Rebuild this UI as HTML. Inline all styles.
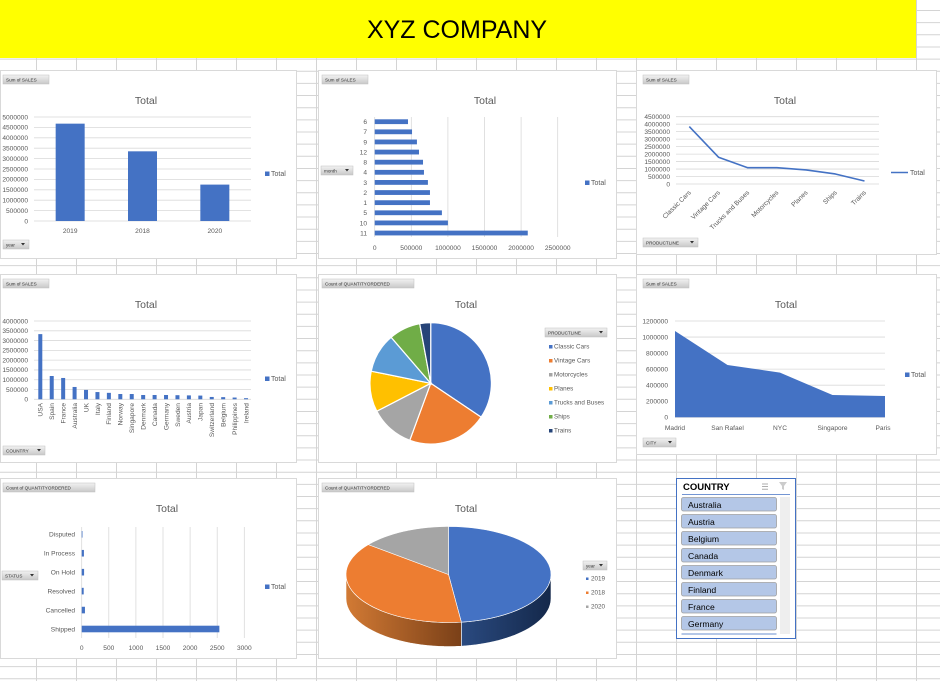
<!DOCTYPE html>
<html><head><meta charset="utf-8">
<style>
html,body{margin:0;padding:0;background:#fff;}
body{width:940px;height:681px;overflow:hidden;font-family:"Liberation Sans",sans-serif;}
svg text{font-family:"Liberation Sans",sans-serif;}
</style></head>
<body>
<svg id="root" width="940" height="681" viewBox="0 0 940 681" xmlns="http://www.w3.org/2000/svg">
<defs>
<linearGradient id="btn" x1="0" y1="0" x2="0" y2="1"><stop offset="0" stop-color="#f2f2f2"/><stop offset="1" stop-color="#c8c8c8"/></linearGradient>
<linearGradient id="sideBlue" x1="0" y1="0" x2="1" y2="0"><stop offset="0" stop-color="#2a4a80"/><stop offset="1" stop-color="#14284a"/></linearGradient>
<linearGradient id="sideOrange" x1="0" y1="0" x2="1" y2="0"><stop offset="0" stop-color="#d27a34"/><stop offset="1" stop-color="#7a4018"/></linearGradient>
</defs>
<g id="grid"></g>
<rect x="0" y="0" width="916" height="58" fill="#ffff00"/>
<text x="457" y="38" font-size="25" text-anchor="middle" fill="#000">XYZ COMPANY</text>
<g id="charts"></g>
</svg>
<script>
// ---------- data ----------
const yearCats = ["2019","2018","2020"];
const yearSales = [4680000,3350000,1750000];
const yearTicks = [0,500000,1000000,1500000,2000000,2500000,3000000,3500000,4000000,4500000,5000000];

const monthCats = ["6","7","9","12","8","4","3","2","1","5","10","11"];
const monthSales = [455000,510000,577000,605000,660000,673000,727000,755000,755000,918000,1000000,2091000];
const monthTicks = [0,500000,1000000,1500000,2000000,2500000];

const productCats = ["Classic Cars","Vintage Cars","Trucks and Buses","Motorcycles","Planes","Ships","Trains"];
const productSales = [3840000,1790000,1090000,1090000,940000,670000,200000];
const productTicks = [0,500000,1000000,1500000,2000000,2500000,3000000,3500000,4000000,4500000];

const countryCats = ["USA","Spain","France","Australia","UK","Italy","Finland","Norway","Singapore","Denmark","Canada","Germany","Sweden","Austria","Japan","Switzerland","Belgium","Philippines","Ireland"];
const countrySales = [3330000,1190000,1090000,630000,480000,370000,330000,270000,270000,220000,220000,220000,210000,200000,190000,120000,110000,90000,57000];
const countryTicks = [0,500000,1000000,1500000,2000000,2500000,3000000,3500000,4000000];

const pieCats = ["Classic Cars","Vintage Cars","Motorcycles","Planes","Trucks and Buses","Ships","Trains"];
const pieQty = [34.4,21.2,11.8,10.8,10.5,8.4,2.9];
const pieColors = ["#4472c4","#ed7d31","#a5a5a5","#ffc000","#5b9bd5","#70ad47","#264478"];

const cityCats = ["Madrid","San Rafael","NYC","Singapore","Paris"];
const citySales = [1075000,652000,556000,278000,266000];
const cityTicks = [0,200000,400000,600000,800000,1000000,1200000];

const statusCats = ["Disputed","In Process","On Hold","Resolved","Cancelled","Shipped"];
const statusQty = [14,41,44,37,60,2540];
const statusTicks = [0,500,1000,1500,2000,2500,3000];

const yearQtyCats = ["2019","2018","2020"];
const yearQty = [48.0,37.7,14.3];
const yearQtyColors = ["#4472c4","#ed7d31","#a5a5a5"];

const sliceCountries = ["Australia","Austria","Belgium","Canada","Denmark","Finland","France","Germany"];

// ---------- helpers ----------
const NS="http://www.w3.org/2000/svg";
const root=document.getElementById('charts');
function el(tag,attrs,parent,txt){const e=document.createElementNS(NS,tag);for(const k in attrs)e.setAttribute(k,attrs[k]);if(txt!==undefined)e.textContent=txt;(parent||root).appendChild(e);return e;}
function lin(d0,d1,r0,r1){return v=>r0+(v-d0)/(d1-d0)*(r1-r0);}
const GRAY="#595959", GL="#d9d9d9", BLUE="#4472c4";

// sheet grid
const grid=document.getElementById('grid');
for(let x=36.5;x<940;x+=40){const l=el('line',{x1:x,y1:0,x2:x,y2:681,stroke:"#d4d4d4","stroke-width":1},grid);}
for(let y=10.5;y<681;y+=12.15){const l=el('line',{x1:0,y1:y,x2:940,y2:y,stroke:"#d4d4d4","stroke-width":1},grid);}

function panel(name,x,y,w,h){
  const g=el('g',{});
  
  
  const r=el('rect',{x:x+0.5,y:y+0.5,width:w,height:h,fill:"#fff",stroke:"#d9d9d9"},g);
  
  
  return g;
}
function button(g,x,y,w,h,label,arrow,name){
  const b=el('g',{},g);
  
  
  el('rect',{x:x,y:y,width:w,height:h,fill:"url(#btn)",stroke:"#bfbfbf","stroke-width":0.5},b);
  el('text',{x:x+3,y:y+h-2.3,"font-size":4.6,fill:"#333"},b,label);
  if(arrow) el('path',{d:`M${x+w-8} ${y+3} l4 0 l-2 2.5 z`,fill:"#333"},b);
}
function title(g,x,y){const t=el('text',{x:x,y:y,"font-size":10.5,fill:GRAY,"text-anchor":"middle"},g,"Total");}
function legendSq(g,x,y){const lg=el('g',{},g);el('rect',{x:x,y:y-4.5,width:4.5,height:4.5,fill:BLUE},lg);el('text',{x:x+6,y:y,"font-size":7,fill:GRAY},lg,"Total");}
function tickText(g,x,y,t,anchor,name){const e=el('text',{x:x,y:y,"font-size":6.6,fill:GRAY,"text-anchor":anchor||"end"},g,t);return e;}

// ---------- chart 1: sales by year ----------
(function(){
  const g=panel('sales-by-year-chart',0,70,296,188);
  button(g,3,75,46,9,"Sum of SALES",false,'sum-of-sales-button');
  title(g,146,104);
  const y=lin(0,5000000,221,117);
  yearTicks.forEach(t=>{el('line',{x1:34,x2:251,y1:y(t),y2:y(t),stroke:GL,"stroke-width":0.8},g);tickText(g,28,y(t)+2.3,String(t));});
  const step=217/yearCats.length;
  yearCats.forEach((c,i)=>{const cx=34+step*(i+0.5);
    const b=el('rect',{x:cx-14.5,y:y(yearSales[i]),width:29,height:y(0)-y(yearSales[i]),fill:BLUE},g);
    
    tickText(g,cx,233,c,"middle");});
  legendSq(g,265,176);
  button(g,3,240,26,9,"year",true,'year-filter-button');
})();

// ---------- chart 2: sales by month ----------
(function(){
  const g=panel('sales-by-month-chart',318,70,298,188);
  button(g,322,75,46,9,"Sum of SALES",false,'sum-of-sales-button');
  title(g,485,104);
  const x=lin(0,500000,374.7,411.3);
  monthTicks.forEach(t=>{el('line',{x1:x(t),x2:x(t),y1:117,y2:237,stroke:GL,"stroke-width":0.8},g);tickText(g,x(t),250,String(t),"middle");});
  const y0=121.7, st=10.12;
  monthCats.forEach((c,i)=>{const cy=y0+st*i;
    const b=el('rect',{x:x(0),y:cy-2.4,width:x(monthSales[i])-x(0),height:4.8,fill:BLUE},g);
    
    tickText(g,367,cy+2.4,c,"end");});
  button(g,321,166,32,9,"month",true,'month-filter-button');
  legendSq(g,585,185);
})();

// ---------- chart 3: sales by product line ----------
(function(){
  const g=panel('sales-by-productline-chart',636,70,300,184);
  button(g,643,75,46,9,"Sum of SALES",false,'sum-of-sales-button');
  title(g,785,104);
  const y=lin(0,4500000,184,116.7);
  productTicks.forEach(t=>{el('line',{x1:676,x2:879,y1:y(t),y2:y(t),stroke:GL,"stroke-width":0.8},g);tickText(g,670,y(t)+2.3,String(t));});
  const xs=i=>689.3+29.2*i;
  let d="";
  productCats.forEach((c,i)=>{d+=(i?"L":"M")+xs(i)+" "+y(productSales[i]);
    const t=tickText(g,xs(i)+2,193,c,"end",'category-label');t.setAttribute('transform',`rotate(-45 ${xs(i)+2} 193)`);});
  const p=el('path',{d:d,fill:"none",stroke:BLUE,"stroke-width":1.6,"stroke-linejoin":"round"},g);
  
  const lg=el('g',{},g);
  el('line',{x1:891,x2:908,y1:172.5,y2:172.5,stroke:BLUE,"stroke-width":1.6},lg);el('text',{x:910,y:175,"font-size":7,fill:GRAY},lg,"Total");
  button(g,643,238,55,9,"PRODUCTLINE",true,'productline-filter-button');
})();

// ---------- chart 4: sales by country ----------
(function(){
  const g=panel('sales-by-country-chart',0,274,296,188);
  button(g,3,279,46,9,"Sum of SALES",false,'sum-of-sales-button');
  title(g,146,308);
  const y=lin(0,4000000,399.3,321);
  countryTicks.forEach(t=>{el('line',{x1:34,x2:251,y1:y(t),y2:y(t),stroke:GL,"stroke-width":0.8},g);tickText(g,28,y(t)+2.3,String(t));});
  countryCats.forEach((c,i)=>{const cx=40.3+11.43*i;
    const b=el('rect',{x:cx-2,y:y(countrySales[i]),width:4,height:y(0)-y(countrySales[i]),fill:BLUE},g);
    
    const t=tickText(g,cx+2.3,403,c,"end",'category-label');t.setAttribute('transform',`rotate(-90 ${cx+2.3} 403)`);});
  legendSq(g,265,381);
  button(g,3,446,42,9,"COUNTRY",true,'country-filter-button');
})();

// ---------- chart 5: pie by product line ----------
(function(){
  const g=panel('quantity-by-productline-pie',318,274,298,188);
  button(g,322,279,92,9,"Count of QUANTITYORDERED",false,'count-of-quantity-button');
  title(g,466,308);
  const cx=430.7, cy=383.3, r=60.7;
  const tot=pieQty.reduce((a,b)=>a+b,0);
  let a0=0;
  pieQty.forEach((v,i)=>{const a1=a0+v/tot*2*Math.PI;
    const x0=cx+r*Math.sin(a0),y0=cy-r*Math.cos(a0),x1=cx+r*Math.sin(a1),y1=cy-r*Math.cos(a1);
    const s=el('path',{d:`M${cx} ${cy}L${x0} ${y0}A${r} ${r} 0 ${a1-a0>Math.PI?1:0} 1 ${x1} ${y1}Z`,fill:pieColors[i],stroke:"#fff","stroke-width":1.2},g);
    
    a0=a1;});
  button(g,545,328,62,9,"PRODUCTLINE",true,'productline-filter-button');
  pieCats.forEach((c,i)=>{const yy=348.5+14*i;const lg=el('g',{},g);
    el('rect',{x:549,y:yy-3.5,width:3.5,height:3.5,fill:pieColors[i]},lg);el('text',{x:554,y:yy,"font-size":6.3,fill:GRAY},lg,c);});
})();

// ---------- chart 6: sales by city (area) ----------
(function(){
  const g=panel('sales-by-city-chart',636,274,300,180);
  button(g,643,279,46,9,"Sum of SALES",false,'sum-of-sales-button');
  title(g,786,308);
  const y=lin(0,1200000,417.3,321);
  cityTicks.forEach(t=>{el('line',{x1:675,x2:885,y1:y(t),y2:y(t),stroke:GL,"stroke-width":0.8},g);tickText(g,668,y(t)+2.3,String(t));});
  const xs=i=>675+52.5*i;
  let d=`M${xs(0)} ${y(0)}`;
  cityCats.forEach((c,i)=>{d+=`L${xs(i)} ${y(citySales[i])}`;tickText(g,xs(i)+(i==4?-2:0),430,c,"middle",'category-label');});
  d+=`L${xs(cityCats.length-1)} ${y(0)}Z`;
  const a=el('path',{d:d,fill:BLUE},g);
  legendSq(g,905,377);
  button(g,643,438,33,9,"CITY",true,'city-filter-button');
})();

// ---------- chart 7: quantity by status ----------
(function(){
  const g=panel('quantity-by-status-chart',0,478,296,180);
  button(g,3,483,92,9,"Count of QUANTITYORDERED",false,'count-of-quantity-button');
  title(g,167,512);
  const x=lin(0,3000,81.7,244.3);
  statusTicks.forEach(t=>{el('line',{x1:x(t),x2:x(t),y1:527,y2:638,stroke:GL,"stroke-width":0.8},g);tickText(g,x(t),650,String(t),"middle");});
  statusCats.forEach((c,i)=>{const cy=534.3+18.94*i;
    const b=el('rect',{x:x(0),y:cy-3.3,width:x(statusQty[i])-x(0),height:6.6,fill:BLUE},g);
    
    tickText(g,75,cy+2.4,c,"end",'category-label');});
  button(g,2,571,36,9,"STATUS",true,'status-filter-button');
  legendSq(g,265,589);
})();

// ---------- chart 8: 3D pie by year ----------
(function(){
  const g=panel('quantity-by-year-3d-pie',318,478,298,180);
  button(g,322,483,92,9,"Count of QUANTITYORDERED",false,'count-of-quantity-button');
  title(g,466,512);
  const cx=448.5, cy=574.5, rx=102.5, ry=48, dep=24;
  const P=(a,dy)=>[cx+rx*Math.sin(a),cy-ry*Math.cos(a)+(dy||0)];
  const tot=yearQty.reduce((a,b)=>a+b,0);
  const angs=[0];yearQty.forEach(v=>angs.push(angs[angs.length-1]+v/tot*2*Math.PI));
  const sideFill=["url(#sideBlue)","url(#sideOrange)","#7a7a7a"];
  // sides (front half: PI/2 .. 3PI/2)
  yearQty.forEach((v,i)=>{const s=Math.max(angs[i],Math.PI/2),e=Math.min(angs[i+1],1.5*Math.PI);if(e<=s)return;
    let d="";const n=30;
    for(let k=0;k<=n;k++){const p=P(s+(e-s)*k/n);d+=(k?"L":"M")+p[0]+" "+p[1];}
    for(let k=n;k>=0;k--){const p=P(s+(e-s)*k/n,dep);d+="L"+p[0]+" "+p[1];}
    const sd=el('path',{d:d+"Z",fill:sideFill[i],stroke:"#fff","stroke-width":0.6},g);
    });
  yearQty.forEach((v,i)=>{let d=`M${cx} ${cy}`;const n=40;
    for(let k=0;k<=n;k++){const p=P(angs[i]+(angs[i+1]-angs[i])*k/n);d+="L"+p[0]+" "+p[1];}
    const s=el('path',{d:d+"Z",fill:yearQtyColors[i],stroke:"#fff","stroke-width":0.6},g);
    });
  button(g,583,561,24,9,"year",true,'year-filter-button');
  yearQtyCats.forEach((c,i)=>{const yy=580.5+14*i;const lg=el('g',{},g);
    el('rect',{x:586,y:yy-3,width:2.5,height:2.5,fill:yearQtyColors[i]},lg);el('text',{x:591,y:yy,"font-size":6.3,fill:GRAY},lg,c);});
})();

// ---------- slicer ----------
(function(){
  const g=el('g',{});
  
  
  el('rect',{x:676.5,y:478.5,width:119,height:160,fill:"#fff",stroke:"#4472c4","stroke-width":1},g);
  const h=el('text',{x:683,y:490,"font-size":9.5,"font-weight":"bold",fill:"#000"},g,"COUNTRY");
  
  const ms=el('g',{},g);
  for(let k=0;k<3;k++)el('line',{x1:762,x2:768,y1:484+k*2.6,y2:484+k*2.6,stroke:"#999","stroke-width":0.8},ms);
  const cf=el('path',{d:"M779 482 h8 l-3 4 v4 l-2 -1 v-3 z",fill:"#ccc"},g);
  
  el('line',{x1:682,x2:790,y1:494.5,y2:494.5,stroke:"#4472c4","stroke-width":0.8},g);
  const sb=el('rect',{x:780,y:497,width:10,height:137,fill:"#eeeeee"},g);
  
  sliceCountries.forEach((c,i)=>{const yy=497+17*i;const b=el('g',{},g);
    
    el('rect',{x:681.5,y:yy+0.5,width:95,height:13.5,rx:2,fill:"#b4c7e7",stroke:"#a0a0a0","stroke-width":0.8},b);
    el('text',{x:688,y:yy+11,"font-size":8.6,fill:"#000"},b,c);});
  el('rect',{x:681.5,y:633,width:95,height:2,fill:"#b4c7e7"},g);
})();
</script>
</body></html>
